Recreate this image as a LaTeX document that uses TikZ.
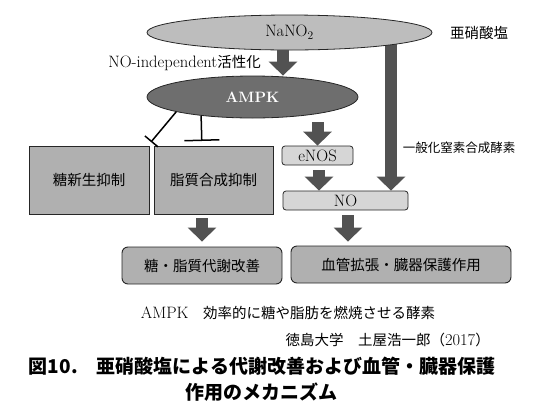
\documentclass[tikz,border=0pt]{standalone}
\usepackage{fontspec}
\newfontfamily\cjk{Noto Sans CJK JP}
\newcommand\jpsmall{\fontsize{14.5}{18}\selectfont\cjk}
\usepackage{tikz}
\usetikzlibrary{arrows.meta,shapes.geometric,backgrounds}

\begin{document}
\begin{tikzpicture}[x=1pt,y=-1pt,
    every node/.style={font=\fontsize{16.5}{19}\selectfont, inner sep=1pt},
    jp/.style={font=\jpsmall},
    oval/.style={ellipse, draw=black!85, line width=0.8pt, inner sep=0pt},
    sqbox/.style={draw=black!85, fill=gray!62, line width=0.9pt,
                  minimum width=120pt, minimum height=68pt, align=center},
    rdbox/.style={draw=black!85, fill=gray!62, line width=0.9pt,
                  rounded corners=6pt, minimum height=37pt, align=center},
    ltbox/.style={draw=black!85, fill=gray!32, line width=0.8pt,
                  rounded corners=3pt, minimum height=19pt, align=center},
    blk/.style={-{Triangle[length=14pt,width=28pt]}, line width=12pt,
                draw=black!68},
    inh/.style={line width=1.5pt, draw=black}]
  \useasboundingbox (0,0) rectangle (539,408);
  \node[oval, fill=gray!52, minimum width=285pt, minimum height=35pt] (nano) at (289.5,32.5) {NaNO\textsubscript{2}};
  \node[jp] (nanoL) at (479,33) {亜硝酸塩};
  \node[anchor=east] (indep) at (262,63) {NO-independent{\jpsmall 活性化}};
  \node[oval, fill=black!57, minimum width=211pt, minimum height=42pt,
        text=white, font=\fontsize{15}{18}\selectfont\bfseries] (ampk) at (252.5,97) {AMPK};
  \node[sqbox, jp] (glu) at (89,180) {糖新生抑制};
  \node[sqbox, jp, minimum width=119pt] (lip) at (213.5,180) {脂質合成抑制};
  \node[rdbox, jp, minimum width=160pt] (meta) at (202,265.5) {糖・脂質代謝改善};
  \node[ltbox, minimum width=71pt] (enos) at (317.5,155.5) {eNOS};
  \node[ltbox, minimum width=125pt] (no) at (345.5,200.5) {NO};
  \node[rdbox, jp, minimum width=220pt] (vaso) at (401,264.5) {血管拡張・臓器保護作用};
  \node[font=\fontsize{12.5}{15}\selectfont\cjk] (nosL) at (459,148) {一般化窒素合成酵素};
  \node (note) at (288,313) {AMPK{\jpsmall 　効率的に糖や脂肪を燃焼させる酵素}};
  \node[anchor=east] (src) at (491,340) {{\jpsmall 徳島大学　土屋浩一郎（}2017{\jpsmall ）}};
  \node[align=center, font=\fontsize{19}{26}\selectfont\cjk\bfseries] (title) at (262,379)
    {図10.　亜硝酸塩による代謝改善および血管・臓器保護\\作用のメカニズム};
  \coordinate (gInh) at (151,142);
  \coordinate (lInh) at (201.8,141);
  \draw[inh, -{Bar[width=17pt]}] (ampk.191) -- (gInh);
  \draw[inh, -{Bar[width=35pt]}] (ampk.200) -- (lInh);
  \draw[blk] ([xshift=-6.5pt]nano.south) -- ([xshift=-6.5pt]nano.south |- ampk.north);
  \begin{scope}[on background layer]
    \draw[blk] ([xshift=101.5pt]nano.center) -- ([xshift=101.5pt]nano.center |- no.north);
  \end{scope}
  \draw[blk] ([yshift=-4pt]enos.north |- ampk.south) -- (enos.north);
  \draw[blk] ([xshift=1.5pt,yshift=-5pt]enos.south) -- ([xshift=1.5pt]enos.south |- no.north);
  \draw[blk] ([xshift=2.5pt,yshift=-5pt]no.south) -- ([xshift=2.5pt,yshift=4pt]no.south |- vaso.north);
  \draw[blk] ([xshift=-11.5pt,yshift=-4pt]lip.south) -- ([xshift=-11.5pt,yshift=5pt]lip.south |- meta.north);
\end{tikzpicture}
\end{document}
